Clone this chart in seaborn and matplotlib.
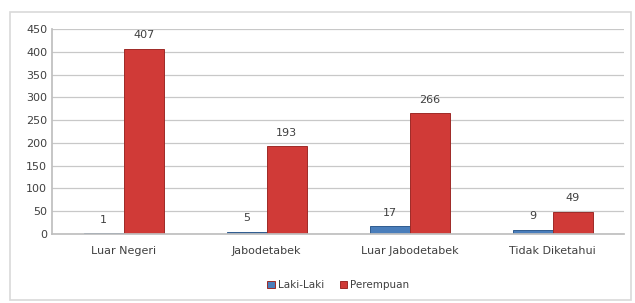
import pandas as pd
import matplotlib.pyplot as plt
import seaborn as sns
from matplotlib.patches import Rectangle

categories = ["Luar Negeri", "Jabodetabek", "Luar Jabodetabek", "Tidak Diketahui"]
laki_laki = [1, 5, 17, 9]
perempuan = [407, 193, 266, 49]
series_names = ["Laki-Laki", "Perempuan"]
y_ticks = [0, 50, 100, 150, 200, 250, 300, 350, 400, 450]

df = pd.DataFrame({
    "Lokasi": categories * 2,
    "Jumlah": laki_laki + perempuan,
    "Jenis": [series_names[0]] * len(categories) + [series_names[1]] * len(categories),
})

sns.set_theme(style="white")
plt.rcParams["font.family"] = ["DejaVu Sans"]

fig = plt.figure(figsize=(6.35, 3.03), dpi=100)
ax = fig.add_axes([0.082, 0.228, 0.901, 0.676])

# outer chart border
fig.patches.append(Rectangle((0.016, 0.01), 0.978, 0.95, transform=fig.transFigure,
                             fill=False, edgecolor="#d9d9d9", linewidth=1.2))

palette = {"Laki-Laki": "#4a7ebb", "Perempuan": "#d03a37"}
sns.barplot(data=df, x="Lokasi", y="Jumlah", hue="Jenis", palette=palette,
            width=0.56, gap=0, ax=ax, edgecolor="#9e2a27", linewidth=0.7, saturation=1)

for container, name in zip(ax.containers, series_names):
    for bar in container:
        if name == "Laki-Laki":
            bar.set_edgecolor("#2f5b8f")
    ax.bar_label(container, padding=6, fontsize=8, color="#404040")

ax.set_ylim(0, 450)
ax.set_yticks(y_ticks)
ax.grid(axis="y", color="#c8c8c8", linewidth=0.9)
ax.set_axisbelow(True)
for s in ["top", "right"]:
    ax.spines[s].set_visible(False)
ax.spines["left"].set_color("#bfbfbf")
ax.spines["bottom"].set_color("#bfbfbf")
ax.tick_params(axis="y", labelsize=8, colors="#404040", length=0)
ax.tick_params(axis="x", labelsize=8, colors="#404040", length=0, pad=9)
ax.set_xlabel("")
ax.set_ylabel("")

ax.legend(loc="upper center", bbox_to_anchor=(0.5, -0.18), ncol=2, frameon=False,
          fontsize=7.5, handlelength=0.7, handleheight=0.7, columnspacing=1.5,
          handletextpad=0.3, labelcolor="#404040")

plt.savefig("out.png", dpi=100)
